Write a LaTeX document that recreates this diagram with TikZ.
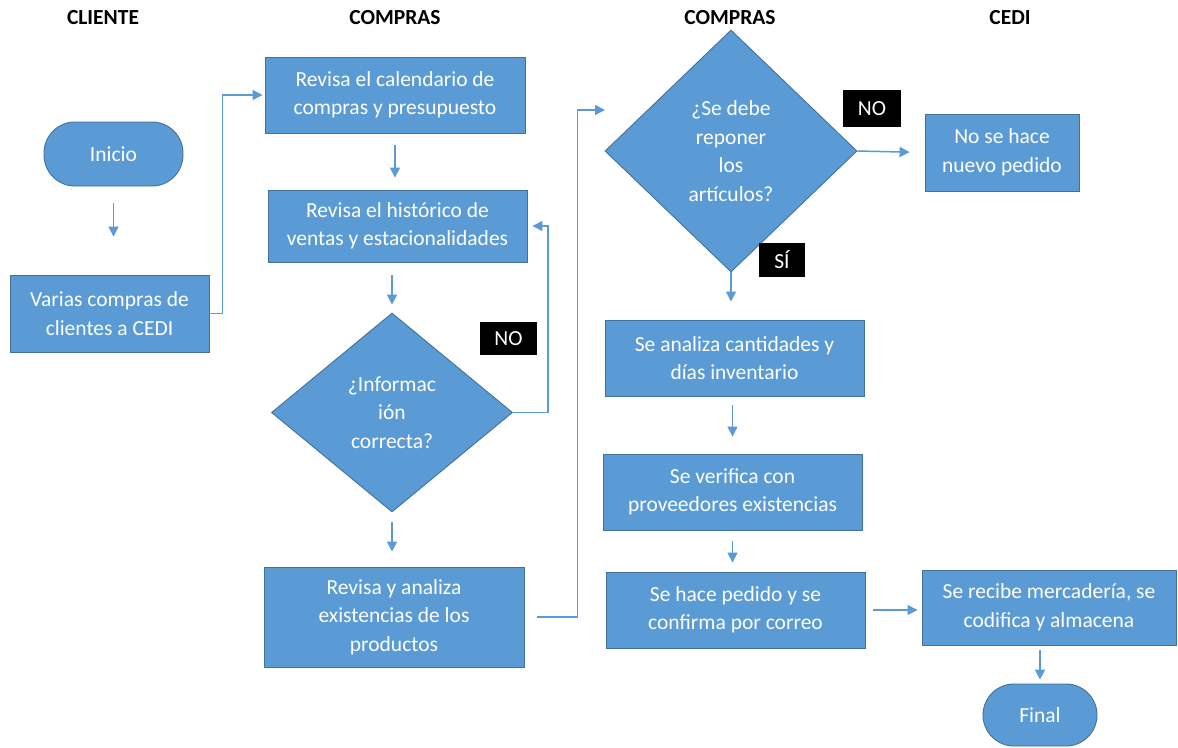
\documentclass[tikz,border=0pt]{standalone}
\usepackage{fontspec}
\setmainfont{Carlito}
\usetikzlibrary{shapes.geometric,arrows.meta,calc}
\definecolor{boxblue}{HTML}{5B9BD5}
\definecolor{boxedge}{HTML}{41719C}
\definecolor{linkblue}{HTML}{5B9BD5}

\begin{document}
\begin{tikzpicture}[x=1pt,y=-1pt,
  every node/.style={font=\fontsize{21.5}{28.5}\selectfont},
  stepbox/.style={draw=boxedge, fill=boxblue, line width=0.9pt, text=white,
    align=center, inner sep=0pt},
  terminal/.style={stepbox, rounded corners=31pt},
  decision/.style={stepbox, shape=diamond},
  tag/.style={fill=black, text=white, inner sep=0pt},
  lane/.style={font=\fontsize{21.5}{28.5}\selectfont\bfseries},
  arr/.style={draw=linkblue, line width=1.5pt,
    -{Triangle[length=10pt,width=10pt]}},
]
\useasboundingbox[fill=white] (0,0) rectangle (1178,747);

% lane titles
\node[lane] (tCliente) at (103,18) {CLIENTE};
\node[lane] (tCompras1) at (395,18) {COMPRAS};
\node[lane] (tCompras2) at (730,18) {COMPRAS};
\node[lane] (tCedi) at (1010,18) {CEDI};

% client lane
\node[terminal, minimum width=139pt, minimum height=64pt] (inicio) at (113.5,154) {Inicio};
\node[stepbox, minimum width=199pt, minimum height=77pt] (varias) at (109.5,313.5)
  {Varias compras de\\clientes a CEDI};

% first purchasing lane
\node[stepbox, minimum width=260pt, minimum height=76pt] (cal) at (395,95)
  {Revisa el calendario de\\compras y presupuesto};
\node[stepbox, minimum width=259pt, minimum height=72pt] (hist) at (397.5,226)
  {Revisa el histórico de\\ventas y estacionalidades};
\node[decision, minimum width=241pt, minimum height=199pt] (info) at (392,412.5)
  {¿Informac\\ión\\correcta?};
\node[stepbox, minimum width=260pt, minimum height=100pt] (revan) at (394,617)
  {Revisa y analiza\\existencias de los\\productos};
\node[tag, minimum width=57pt, minimum height=33pt] (noA) at (508.5,338.5) {NO};

% second purchasing lane
\node[decision, minimum width=252pt, minimum height=242pt] (repo) at (731,151)
  {¿Se debe\\reponer\\los\\artículos?};
\node[tag, minimum width=58pt, minimum height=37pt] (noB) at (872,108.5) {NO};
\node[tag, minimum width=46pt, minimum height=34pt] (si) at (782,260) {SÍ};
\node[stepbox, minimum width=259pt, minimum height=76pt] (anal) at (734.5,358)
  {Se analiza cantidades y\\días inventario};
\node[stepbox, minimum width=259pt, minimum height=76pt] (verif) at (732.5,492)
  {Se verifica con\\proveedores existencias};
\node[stepbox, minimum width=259pt, minimum height=76pt] (pedido) at (735.5,610)
  {Se hace pedido y se\\confirma por correo};

% distribution centre lane
\node[stepbox, minimum width=154pt, minimum height=77pt] (nose) at (1002,152.5)
  {No se hace\\nuevo pedido};
\node[stepbox, minimum width=254pt, minimum height=75pt] (recibe) at (1049,607.5)
  {Se recibe mercadería, se\\codifica y almacena};
\node[terminal, minimum width=114pt, minimum height=62pt] (final) at (1040,715) {Final};

\coordinate (repoIn) at (605,110);

% connectors
\draw[arr, shorten <=17pt, shorten >=38pt] (inicio.south) -- (inicio.south |- varias.north);
\draw[arr, shorten >=2pt] (varias.east) -- ++(13,0) |- (cal.west);
\draw[arr, shorten <=12pt, shorten >=12pt] (cal.south) -- (hist.north -| cal.south);
\draw[arr, shorten <=13pt, shorten >=8pt] (info.north |- hist.south) -- (info.north);
\draw[arr, shorten >=5pt] (info.east) -- ++(35,0) |- (hist.east);
\draw[arr, shorten <=10pt, shorten >=15pt] (info.south) -- (info.south |- revan.north);
\draw[arr, shorten <=13pt] (revan.east) -- ++(53,0) |- (repoIn);
\draw[arr, shorten >=15pt] (repo.east) -- (nose.west);
\draw[arr, shorten >=18pt] (repo.south) -- (repo.south |- anal.north);
\draw[arr, shorten <=9pt, shorten >=17pt] (anal.south -| verif.north) -- (verif.north);
\draw[arr, shorten <=11pt, shorten >=9pt] (verif.south) -- (verif.south |- pedido.north);
\draw[arr, shorten <=8pt, shorten >=4pt] (pedido.east) -- (pedido.east -| recibe.west);
\draw[arr, shorten <=5pt, shorten >=4pt] (recibe.south -| final.north) -- (final.north);
\end{tikzpicture}
\end{document}
